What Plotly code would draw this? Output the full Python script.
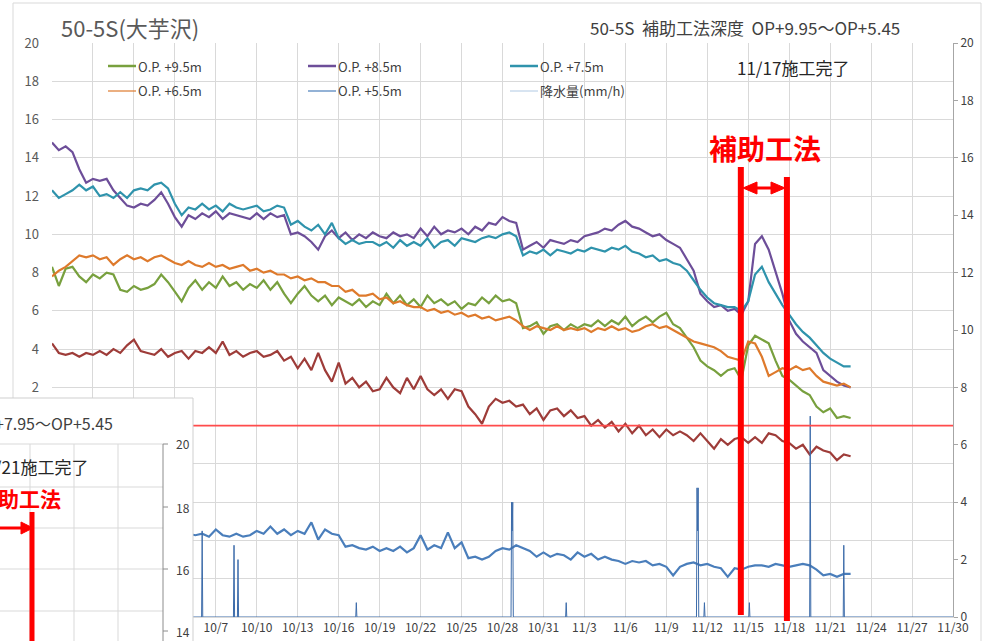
import pandas as pd
import plotly.graph_objects as go

START = "2019-09-25 00:00"   # 12-hourly readings start here

# ---- water level readings (left axis), one value every 12 hours ----
op95 = [8.3, 7.3, 8.2, 8.3, 7.8, 7.5, 7.9, 7.7, 8.0, 7.9,
        7.1, 7.0, 7.3, 7.1, 7.2, 7.4, 7.9, 7.5, 7.0, 6.5,
        7.2, 7.6, 7.1, 7.5, 7.2, 7.8, 7.3, 7.5, 7.1, 7.4,
        7.2, 7.6, 7.1, 7.5, 6.9, 6.4, 6.9, 7.3, 6.8, 6.5,
        6.8, 6.3, 6.7, 6.5, 6.3, 6.6, 6.2, 6.5, 6.3, 6.9,
        6.4, 6.8, 6.3, 6.6, 6.2, 6.8, 6.4, 6.6, 6.3, 6.5,
        6.1, 6.4, 6.3, 6.7, 6.4, 6.8, 6.5, 6.6, 6.4, 5.1,
        5.2, 5.4, 4.8, 5.2, 5.3, 5.0, 5.3, 5.1, 5.3, 5.2,
        5.5, 5.2, 5.5, 5.3, 5.7, 5.2, 5.5, 5.7, 5.4, 5.7,
        5.9, 5.3, 5.1, 4.6, 4.1, 3.4, 3.1, 2.9, 2.6, 2.9,
        3.0, 2.4, 4.2, 4.7, 4.5, 4.3, 3.4, 2.6, 2.4, 2.1,
        1.8, 1.6, 1.0, 0.7, 0.9, 0.4, 0.5, 0.4]
op85 = [14.8, 14.4, 14.6, 14.3, 13.4, 12.7, 12.9, 12.8, 12.9, 12.3,
        11.9, 11.5, 11.4, 11.6, 11.5, 11.8, 12.2, 11.6, 10.9, 10.4,
        11.0, 10.8, 11.1, 10.9, 11.2, 10.8, 11.1, 11.0, 10.9, 10.8,
        11.1, 10.8, 11.1, 10.9, 11.0, 10.0, 10.1, 9.9, 9.6, 9.2,
        9.9, 10.2, 9.8, 10.1, 9.7, 10.0, 9.8, 10.1, 9.9, 9.8,
        10.1, 9.9, 10.0, 9.8, 10.3, 9.9, 10.4, 10.0, 10.2, 10.1,
        10.3, 10.0, 10.4, 10.2, 10.6, 10.5, 10.9, 10.7, 10.6, 9.2,
        9.4, 9.6, 9.3, 9.7, 9.6, 9.5, 9.7, 9.6, 9.9, 10.0,
        10.1, 10.3, 10.2, 10.5, 10.7, 10.4, 10.3, 10.1, 9.9, 10.0,
        9.7, 9.5, 9.3, 8.7, 8.1, 6.9, 6.5, 6.2, 6.3, 6.0,
        6.1, 5.8, 6.5, 9.5, 9.9, 9.2, 8.0, 6.9, 5.5, 4.8,
        4.4, 4.1, 3.8, 2.9, 2.6, 2.3, 2.1, 2.0]
op75 = [12.3, 11.9, 12.1, 12.3, 12.6, 12.3, 12.5, 12.0, 12.1, 11.9,
        12.2, 11.9, 12.3, 12.4, 12.3, 12.6, 12.7, 12.4, 11.6, 11.0,
        11.4, 11.3, 11.6, 11.3, 11.5, 11.2, 11.6, 11.4, 11.3, 11.4,
        11.5, 11.2, 11.3, 11.5, 11.4, 10.5, 10.7, 10.4, 10.2, 10.5,
        10.0, 10.6, 9.8, 9.5, 9.7, 9.5, 9.6, 9.6, 9.4, 9.6,
        9.3, 9.7, 9.4, 9.6, 9.4, 9.8, 9.3, 9.6, 9.7, 9.4,
        9.8, 9.7, 9.6, 9.8, 9.9, 9.8, 10.0, 10.1, 9.9, 8.9,
        9.1, 9.0, 9.2, 8.9, 9.2, 9.1, 9.0, 9.2, 9.1, 9.3,
        9.2, 9.1, 9.3, 9.2, 9.4, 9.1, 9.0, 8.8, 8.9, 8.6,
        8.7, 8.5, 8.4, 8.1, 7.6, 7.1, 6.7, 6.4, 6.3, 6.2,
        6.2, 6.0, 6.5, 7.9, 8.3, 7.5, 6.9, 6.3, 5.8, 5.3,
        4.9, 4.6, 4.2, 3.8, 3.5, 3.3, 3.1, 3.1]
op65 = [7.8, 8.1, 8.3, 8.6, 8.9, 8.8, 8.9, 8.7, 8.8, 8.4,
        8.7, 8.9, 8.7, 8.8, 8.6, 8.8, 8.9, 8.7, 8.5, 8.4,
        8.6, 8.4, 8.3, 8.5, 8.3, 8.4, 8.2, 8.3, 8.4, 8.1,
        8.2, 8.0, 8.1, 7.9, 7.9, 7.7, 7.8, 7.6, 7.7, 7.5,
        7.5, 7.3, 7.3, 7.0, 7.1, 6.8, 6.8, 6.9, 6.6, 6.7,
        6.4, 6.5, 6.3, 6.2, 6.2, 6.0, 6.1, 5.9, 6.0, 5.8,
        5.9, 5.7, 5.8, 5.6, 5.7, 5.5, 5.6, 5.7, 5.5, 5.2,
        5.0, 5.2, 5.1, 5.0, 5.2, 5.0, 5.1, 5.0, 5.1, 4.9,
        5.1, 5.0, 5.2, 5.0, 5.1, 4.9, 5.0, 5.2, 5.3, 5.1,
        5.2, 5.0, 4.8, 4.6, 4.4, 4.3, 4.2, 4.1, 3.9, 3.6,
        3.5, 3.4, 4.4, 4.3, 3.6, 2.6, 2.8, 3.0, 2.9, 3.1,
        2.9, 3.0, 2.6, 2.3, 2.2, 2.1, 2.2, 2.0]
op_red = [4.3, 3.8, 3.7, 3.8, 3.6, 3.8, 3.7, 3.9, 3.7, 4.0,
          3.8, 4.2, 4.5, 3.9, 3.8, 3.7, 4.0, 3.6, 3.8, 3.9,
          3.5, 3.9, 3.8, 4.1, 3.8, 4.4, 3.7, 3.9, 3.6, 3.8,
          3.9, 3.6, 3.7, 3.9, 3.4, 3.6, 3.0, 3.5, 2.9, 3.8,
          2.9, 2.3, 3.3, 2.2, 2.5, 2.0, 2.3, 1.8, 1.9, 2.5,
          2.0, 1.7, 2.5, 1.9, 2.6, 1.9, 1.6, 1.9, 1.4, 1.9,
          1.8, 1.0, 0.6, 0.1, 1.0, 1.4, 1.2, 1.3, 1.0, 1.1,
          0.6, 0.9, 0.3, 0.8, 0.9, 0.5, 0.8, 0.4, 0.5, 0.0,
          0.3, -0.1, 0.2, -0.3, 0.1, -0.4, 0.0, -0.5, -0.2, -0.6,
          -0.2, -0.5, -0.3, -0.5, -0.8, -0.4, -0.8, -1.2, -0.7, -1.0,
          -0.7, -0.6, -0.9, -0.6, -0.9, -0.4, -0.5, -0.8, -0.9, -1.2,
          -1.0, -1.5, -1.1, -1.3, -1.4, -1.8, -1.5, -1.6]

# ---- right axis: O.P.+5.5m reading and hourly rainfall ----
op55 = [2.9, 2.8, 2.95, 2.85, 2.9, 2.8, 2.9, 2.95, 2.85, 2.8,
        2.9, 2.85, 2.95, 2.8, 2.9, 2.85, 2.9, 2.8, 2.95, 2.85,
        2.9, 2.85, 2.9, 2.8, 3.05, 2.85, 2.8, 2.9, 2.8, 2.85,
        3.0, 2.9, 3.15, 2.9, 3.05, 2.85, 3.0, 2.9, 3.3, 2.7,
        3.05, 2.9, 2.85, 2.45, 2.5, 2.4, 2.35, 2.45, 2.3, 2.4,
        2.3, 2.45, 2.25, 2.4, 2.85, 2.35, 2.5, 2.4, 2.95, 2.4,
        2.6, 2.05, 2.1, 2.0, 2.1, 2.3, 2.4, 2.35, 2.5, 2.4,
        2.3, 2.1, 2.25, 2.1, 2.2, 2.15, 2.0, 2.25, 2.1, 2.2,
        2.0, 2.1, 2.0, 1.95, 1.85, 1.95, 1.9, 1.95, 1.8, 1.85,
        1.75, 1.45, 1.75, 1.85, 1.9, 1.8, 1.85, 1.75, 1.7, 1.4,
        1.7, 1.65, 1.75, 1.8, 1.8, 1.75, 1.85, 1.8, 1.75, 1.8,
        1.85, 1.8, 1.65, 1.45, 1.5, 1.4, 1.5, 1.5]

rain_time = ["2019-09-25 00:00",
             "2019-10-05 23:00", "2019-10-06 00:00", "2019-10-06 01:00",
             "2019-10-08 07:00", "2019-10-08 08:00", "2019-10-08 09:00",
             "2019-10-08 14:00", "2019-10-08 15:00", "2019-10-08 16:00",
             "2019-10-17 06:00", "2019-10-17 07:00", "2019-10-17 08:00",
             "2019-10-28 15:00", "2019-10-28 16:00", "2019-10-28 17:00", "2019-10-28 18:00", "2019-10-28 19:00",
             "2019-11-01 15:00", "2019-11-01 16:00", "2019-11-01 17:00",
             "2019-11-11 05:00", "2019-11-11 06:00", "2019-11-11 07:00", "2019-11-11 08:00", "2019-11-11 09:00",
             "2019-11-11 18:00", "2019-11-11 19:00", "2019-11-11 20:00",
             "2019-11-15 01:00", "2019-11-15 02:00", "2019-11-15 03:00",
             "2019-11-19 12:00", "2019-11-19 13:00", "2019-11-19 14:00",
             "2019-11-21 23:00", "2019-11-22 00:00", "2019-11-22 01:00",
             "2019-11-30 00:00"]
rain_mm = [0,
           0, 3.0, 0,
           0, 2.5, 0,
           0, 2.0, 0,
           0, 0.5, 0,
           0, 4.0, 3.0, 4.0, 0,
           0, 0.5, 0,
           0, 4.5, 3.0, 4.5, 0,
           0, 0.5, 0,
           0, 0.5, 0,
           0, 7.0, 0,
           0, 2.5, 0,
           0]

legend_names = ["O.P. +9.5m", "O.P. +8.5m", "O.P. +7.5m",
                "O.P. +6.5m", "O.P. +5.5m", "降水量(mm/h)"]
work_start = "2019-11-14 11:00"
work_end = "2019-11-17 20:00"

FONT = "Noto Sans CJK JP"
C95, C85, C75, C65, CRED, C55, CRAIN = ("#78a03e", "#6d4e99", "#2f93ac", "#de7a2c",
                                       "#9e3c39", "#4a7ebb", "#3d6caa")

W, H = 983, 641
L, R, T, B = 52, 953, 43, 617


def fx(px):
    return (px - L) / (R - L)


def fy(py):
    return (B - py) / (B - T)


def t12(n):
    return pd.date_range(START, periods=n, freq="12h")


fig = go.Figure()
for vals, col, name in [(op95, C95, legend_names[0]), (op85, C85, legend_names[1]),
                        (op75, C75, legend_names[2]), (op65, C65, legend_names[3]),
                        (op_red, CRED, "O.P.")]:
    fig.add_trace(go.Scatter(x=t12(len(vals)), y=vals, mode="lines", name=name,
                             line=dict(color=col, width=2.2), hoverinfo="skip"))
fig.add_trace(go.Scatter(x=t12(len(op55)), y=op55, yaxis="y2", mode="lines",
                         name=legend_names[4], line=dict(color=C55, width=2.2)))
fig.add_trace(go.Scatter(x=rain_time, y=rain_mm, yaxis="y2", mode="lines",
                         name=legend_names[5], line=dict(color=CRAIN, width=1)))

shapes = []
annos = []

# outer chart border
shapes.append(dict(type="rect", xref="paper", yref="paper", x0=fx(13), x1=fx(981),
                   y0=fy(3), y1=fy(660), line=dict(color="#d9d9d9", width=1), layer="below"))

# red reference line at 0 (left axis)
shapes.append(dict(type="line", xref="paper", yref="y", x0=0, x1=1, y0=0, y1=0,
                   line=dict(color="#ff4b4b", width=1.6), layer="above"))

# construction period marks
shapes.append(dict(type="line", xref="x", yref="paper", x0=work_start, x1=work_start,
                   y0=fy(615), y1=fy(167), line=dict(color="#ff0000", width=6), layer="above"))
shapes.append(dict(type="line", xref="x", yref="paper", x0=work_end, x1=work_end,
                   y0=fy(621), y1=fy(177), line=dict(color="#ff0000", width=6), layer="above"))
shapes.append(dict(type="line", xref="paper", yref="paper", x0=fx(752), x1=fx(776),
                   y0=fy(188), y1=fy(188), line=dict(color="#ff0000", width=3), layer="above"))


def tri(p):
    return "M " + " L ".join(f"{fx(a)},{fy(b)}" for a, b in p) + " Z"


shapes.append(dict(type="path", xref="paper", yref="paper",
                   path=tri([(743, 188), (757, 182), (757, 194)]),
                   fillcolor="#ff0000", line=dict(color="#ff0000", width=1), layer="above"))
shapes.append(dict(type="path", xref="paper", yref="paper",
                   path=tri([(785, 188), (771, 182), (771, 194)]),
                   fillcolor="#ff0000", line=dict(color="#ff0000", width=1), layer="above"))

# manual legend
leg = [(108, 66, C95, 2.5, legend_names[0]), (308, 66, C85, 2.5, legend_names[1]),
       (510, 66, C75, 2.5, legend_names[2]), (108, 91, C65, 1.2, legend_names[3]),
       (308, 91, C55, 1.2, legend_names[4]), (510, 91, "#9dbbdc", 0.8, legend_names[5])]
for x0, y0, col, w, name in leg:
    shapes.append(dict(type="line", xref="paper", yref="paper", x0=fx(x0), x1=fx(x0 + 28),
                       y0=fy(y0), y1=fy(y0), line=dict(color=col, width=w), layer="above"))
    annos.append(dict(xref="paper", yref="paper", x=fx(x0 + 28), y=fy(y0), xanchor="left",
                      yanchor="middle", text=name, showarrow=False,
                      font=dict(family=FONT, size=13, color="#404040")))

# ---- pasted fragment of another chart (bottom-left) ----
GRID = "#d9d9d9"
shapes.append(dict(type="rect", xref="paper", yref="paper", x0=fx(-5), x1=fx(193),
                   y0=fy(398), y1=fy(660), fillcolor="white",
                   line=dict(color="#cfcfcf", width=1), layer="above"))
for gx in [30, 74, 118]:
    shapes.append(dict(type="line", xref="paper", yref="paper", x0=fx(gx), x1=fx(gx),
                       y0=fy(444), y1=fy(660), line=dict(color=GRID, width=1), layer="above"))
for gy in [444, 487, 528, 569, 611]:
    shapes.append(dict(type="line", xref="paper", yref="paper", x0=fx(-5), x1=fx(163),
                       y0=fy(gy), y1=fy(gy), line=dict(color=GRID, width=1), layer="above"))
shapes.append(dict(type="line", xref="paper", yref="paper", x0=fx(163), x1=fx(163),
                   y0=fy(444), y1=fy(660), line=dict(color="#8c8c8c", width=1), layer="above"))
for lab, gy in [("20", 444), ("18", 507), ("16", 569), ("14", 631)]:
    shapes.append(dict(type="line", xref="paper", yref="paper", x0=fx(163), x1=fx(168),
                       y0=fy(gy), y1=fy(gy), line=dict(color="#8c8c8c", width=1), layer="above"))
    annos.append(dict(xref="paper", yref="paper", x=fx(174), y=fy(gy), xanchor="left",
                      yanchor="middle", text=lab, showarrow=False,
                      font=dict(family=FONT, size=12, color="#404040")))
shapes.append(dict(type="line", xref="paper", yref="paper", x0=fx(-5), x1=fx(24),
                   y0=fy(528), y1=fy(528), line=dict(color="#ff0000", width=3), layer="above"))
shapes.append(dict(type="path", xref="paper", yref="paper",
                   path=tri([(33, 528), (21, 522), (21, 534)]),
                   fillcolor="#ff0000", line=dict(color="#ff0000", width=1), layer="above"))
shapes.append(dict(type="line", xref="paper", yref="paper", x0=fx(32), x1=fx(32),
                   y0=fy(512), y1=fy(660), line=dict(color="#ff0000", width=5), layer="above"))
annos.append(dict(xref="paper", yref="paper", x=fx(115), y=fy(423), xanchor="right",
                  yanchor="middle", text="OP+7.95～OP+5.45", showarrow=False,
                  font=dict(family=FONT, size=16, color="#404040")))
annos.append(dict(xref="paper", yref="paper", x=fx(90), y=fy(467), xanchor="right",
                  yanchor="middle", text="11/21施工完了", showarrow=False,
                  font=dict(family=FONT, size=17, color="#262626")))
annos.append(dict(xref="paper", yref="paper", x=fx(63), y=fy(498), xanchor="right",
                  yanchor="middle", text="<b>補助工法</b>", showarrow=False,
                  font=dict(family=FONT, size=21, color="#ff0000")))

# titles / labels of the main chart
annos.append(dict(xref="paper", yref="paper", x=fx(59), y=fy(27), xanchor="left",
                  yanchor="middle", text="50-5S(大芋沢)", showarrow=False,
                  font=dict(family=FONT, size=22, color="#595959")))
annos.append(dict(xref="paper", yref="paper", x=fx(588), y=fy(27), xanchor="left",
                  yanchor="middle", text="50-5S\u00a0\u00a0補助工法深度\u00a0\u00a0OP+9.95～OP+5.45",
                  showarrow=False, font=dict(family=FONT, size=17, color="#404040")))
annos.append(dict(xref="paper", yref="paper", x=fx(735), y=fy(68), xanchor="left",
                  yanchor="middle", text="11/17施工完了", showarrow=False,
                  font=dict(family=FONT, size=17, color="#262626")))
annos.append(dict(xref="paper", yref="paper", x=fx(765), y=fy(148), xanchor="center",
                  yanchor="middle", text="<b>補助工法</b>", showarrow=False,
                  font=dict(family=FONT, size=28, color="#ff0000")))

fig.update_layout(
    width=W, height=H, margin=dict(l=L, r=W - R, t=T, b=H - B, autoexpand=False),
    paper_bgcolor="white", plot_bgcolor="white", showlegend=False,
    font=dict(family=FONT, color="#404040"),
    xaxis=dict(type="date", range=["2019-09-25", "2019-11-30"], tick0="2019-09-25",
               dtick=3 * 86400000, tickformat="%-m/%-d", showgrid=True, gridcolor=GRID,
               gridwidth=1, ticks="", tickfont=dict(family=FONT, size=12, color="#404040"),
               showline=True, linecolor=GRID, zeroline=False),
    yaxis=dict(range=[-10, 20], tick0=0, dtick=2, showgrid=True, gridcolor=GRID,
               zeroline=False, showline=False, ticks="", ticklabelstandoff=12,
               tickfont=dict(family=FONT, size=13, color="#595959")),
    yaxis2=dict(range=[0, 20], tick0=0, dtick=2, overlaying="y", side="right",
                showgrid=False, zeroline=False, showline=True, linecolor="#a6a6a6",
                ticks="outside", ticklen=4, tickcolor="#a6a6a6",
                tickfont=dict(family=FONT, size=12, color="#404040")),
    shapes=shapes, annotations=annos,
)

fig.write_html("out.html", config={"displayModeBar": False},
               post_script="document.body.style.margin='0';document.body.style.overflow='hidden';")
